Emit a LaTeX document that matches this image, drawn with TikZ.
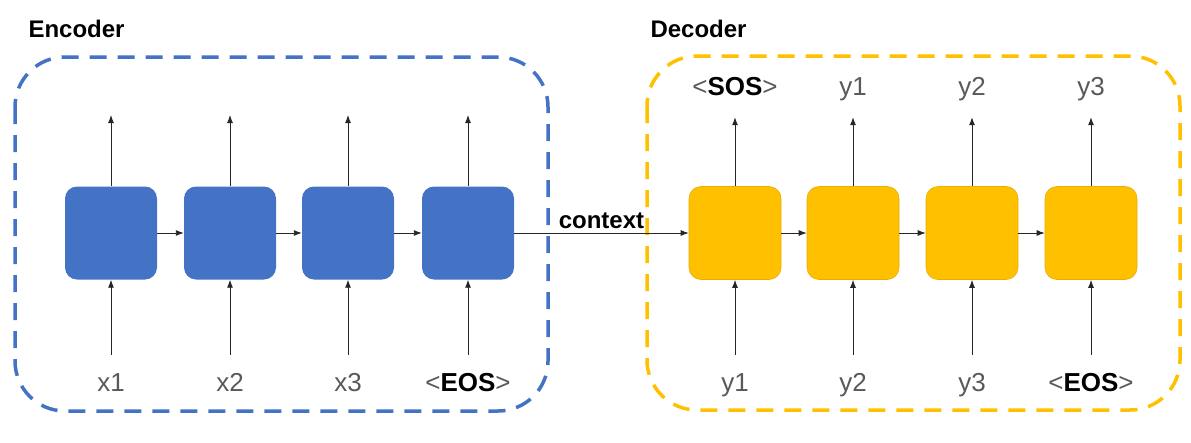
\documentclass[tikz,border=0pt]{standalone}
\usepackage{fontspec}
\setmainfont{Liberation Sans}
\usetikzlibrary{arrows.meta}
\tikzset{
  cell/.style={rounded corners=12pt,minimum width=92pt,minimum height=93pt,inner sep=0pt},
  frame/.style={line width=3.5pt,dash pattern=on 17pt off 11pt,rounded corners=50pt},
  flow/.style={draw=black!85,line width=0.9pt,-{Latex[length=8pt,width=6pt]}},
  tok/.style={font=\fontsize{26}{30}\selectfont,text=black!65,text height=19pt,text depth=5pt,minimum height=58pt,inner sep=0pt},
  title/.style={font=\bfseries\fontsize{24}{28}\selectfont,anchor=west}
}
\begin{document}
\begin{tikzpicture}[x=1pt,y=-1pt]
  % colors
  \definecolor{kBlue}{HTML}{4472C4}
  \definecolor{kYellow}{HTML}{FFC000}
  \definecolor{kYellowEdge}{HTML}{E8AE00}
  \useasboundingbox (0,0) rectangle (1191,442);
  % frames
  \draw[frame,color=kBlue] (15,57) rectangle (548,411);
  \draw[frame,color=kYellow] (647,56) rectangle (1180,410);
  \node[title] (enc) at (25,29) {Encoder};
  \node[title] (dec) at (647,29) {Decoder};
  % encoder cells
  \foreach \i/\x/\s in {1/111/x1, 2/230/x2, 3/348/x3, 4/468/{<\textbf{\textcolor{black}{EOS}}>}} {
    \node[cell,fill=kBlue] (e\i) at (\x,233) {};
    \node[tok] (in\i) at (\x,384) {\s};
    \coordinate (eo\i) at (\x,115);
    \draw[flow] (in\i.north) -- (e\i.south);
    \draw[flow] (e\i.north) -- (eo\i);
  }
  % decoder cells
  \foreach \i/\x/\s/\t in {1/735/y1/{<\textbf{\textcolor{black}{SOS}}>}, 2/853/y2/y1, 3/972/y3/y2, 4/1091/{<\textbf{\textcolor{black}{EOS}}>}/y3} {
    \node[cell,fill=kYellow,draw=kYellowEdge,line width=0.6pt] (d\i) at (\x,233) {};
    \node[tok] (din\i) at (\x,384) {\s};
    \node[tok] (dout\i) at (\x,88) {\t};
    \draw[flow] (din\i.north) -- (d\i.south);
    \draw[flow] (d\i.north) -- (dout\i.south);
  }
  % recurrences
  \foreach \a/\b in {1/2, 2/3, 3/4} {
    \draw[flow] (e\a) -- (e\b);
    \draw[flow] (d\a) -- (d\b);
  }
  \draw[flow] (e4) -- node[above=4pt,font=\bfseries\fontsize{24}{28}\selectfont,inner sep=0pt] (ctx) {context} (d1);
\end{tikzpicture}
\end{document}
